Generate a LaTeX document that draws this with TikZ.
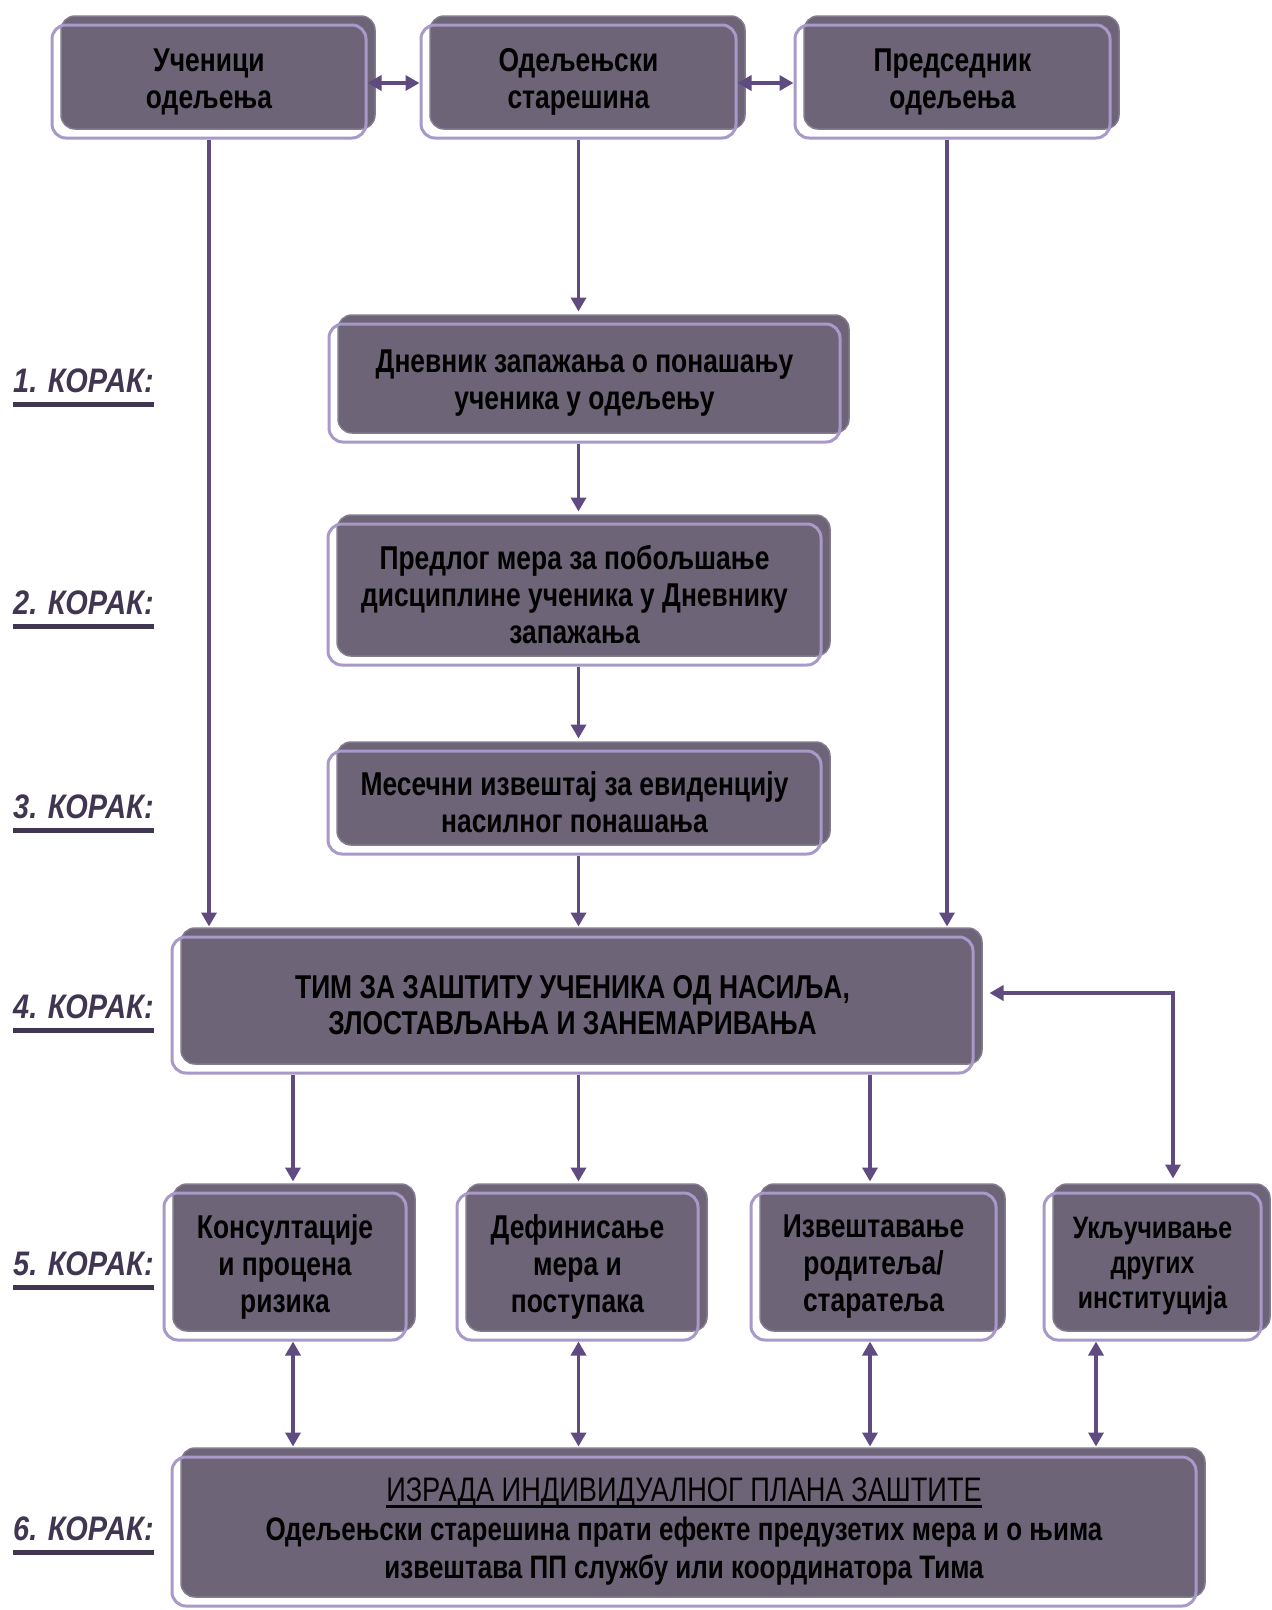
\documentclass[tikz,border=0pt]{standalone}
\usepackage{fontspec}
\setmainfont{Liberation Sans}[FakeStretch=0.8]
\newfontfamily\lblfont{Liberation Sans}[FakeStretch=0.85]
\usetikzlibrary{arrows.meta}
\definecolor{boxdark}{HTML}{6E6478}
\definecolor{boxedge}{HTML}{837B8E}
\definecolor{lav}{HTML}{A899C9}
\definecolor{conn}{HTML}{5F4B80}
\definecolor{steptxt}{HTML}{413652}
\newcommand\myul[1]{\setbox0\hbox{#1}\rlap{\rule[-6pt]{\wd0}{3pt}}\box0}
\tikzset{
  pbox/.style={draw=lav, line width=3pt, rounded corners=14pt, align=center,
    inner sep=0pt, text=black,
    font=\bfseries\fontsize{33}{37}\selectfont,
    preaction={fill=boxdark, draw=boxedge, line width=1.5pt,
      transform canvas={xshift=9pt,yshift=9pt}}},
  steplbl/.style={anchor=base west, inner sep=0pt, text=steptxt,
    font=\lblfont\bfseries\itshape\fontsize{34}{38}\selectfont},
  ulline/.style={draw=steptxt, line width=5pt},
  arr/.style={draw=conn, line width=3.5pt, -{Triangle[width=15pt,length=14pt]}},
  arrb/.style={draw=conn, line width=3.5pt, {Triangle[width=15pt,length=14pt]}-{Triangle[width=15pt,length=14pt]}}
}
\begin{document}
\begin{tikzpicture}[x=1pt,y=-1pt]
\useasboundingbox (0,0) rectangle (1272,1610);
% top row
\node[pbox, minimum width=314pt, minimum height=113pt] (b1) at (209,81.5) {Ученици\\одељења};
\node[pbox, minimum width=315pt, minimum height=113pt] (b2) at (578.5,81.5) {Одељењски\\старешина};
\node[pbox, minimum width=315pt, minimum height=113pt] (b3) at (952.5,81.5) {Председник\\одељења};
% steps 1-3
\node[pbox, minimum width=511pt, minimum height=118pt] (d1) at (584.5,383) {Дневник запажања о понашању\\ученика у одељењу};
\node[pbox, minimum width=493pt, minimum height=141pt] (d2) at (574.5,594.5) {Предлог мера за побољшање\\дисциплине ученика у Дневнику\\запажања};
\node[pbox, minimum width=493pt, minimum height=103pt] (d3) at (574.5,802.5) {Месечни извештај за евиденцију\\насилног понашања};
% step 4
\node[pbox, minimum width=801pt, minimum height=136pt, font=\bfseries\fontsize{33}{36}\selectfont] (T) at (572.5,1005) {ТИМ ЗА ЗАШТИТУ УЧЕНИКА ОД НАСИЉА,\\ЗЛОСТАВЉАЊА И ЗАНЕМАРИВАЊА};
% step 5
\node[pbox, minimum width=242pt, minimum height=147pt] (k1) at (285,1266.5) {Консултације\\и процена\\ризика};
\node[pbox, minimum width=241pt, minimum height=147pt] (k2) at (577.5,1266.5) {Дефинисање\\мера и\\поступака};
\node[pbox, minimum width=245pt, minimum height=147pt] (k3) at (873.5,1266.5) {Извештавање\\родитеља/\\старатеља};
\node[pbox, minimum width=217pt, minimum height=147pt, font=\bfseries\fontsize{31}{35}\selectfont] (k4) at (1152.5,1266.5) {Укључивање\\других\\институција};
% step 6
\node[pbox, minimum width=1024pt, minimum height=149pt, font=\bfseries\fontsize{32.5}{38.5}\selectfont] (p6) at (684,1531.5) {{\mdseries\fontsize{34}{38.5}\selectfont\myul{ИЗРАДА ИНДИВИДУАЛНОГ ПЛАНА ЗАШТИТЕ}}\\Одељењски старешина прати ефекте предузетих мера и о њима\\извештава ПП службу или координатора Тима};
% step labels
\node[steplbl] (s1) at (13,392) {1. КОРАК:};
\node[steplbl] (s2) at (13,614) {2. КОРАК:};
\node[steplbl] (s3) at (13,818) {3. КОРАК:};
\node[steplbl] (s4) at (13,1018) {4. КОРАК:};
\node[steplbl] (s5) at (13,1275) {5. КОРАК:};
\node[steplbl] (s6) at (13,1540) {6. КОРАК:};
\foreach \s in {s1,s2,s3,s4,s5,s6}
  \draw[ulline] ([yshift=-12pt]\s.base west) -- ([yshift=-12pt]\s.base east);
% connectors top row
\draw[arrb] ([yshift=-1.5pt]b1.east) -- ([yshift=-1.5pt]b2.west);
\draw[arrb] ([yshift=-1.5pt]b2.east) -- ([yshift=-1.5pt]b3.west);
% vertical lines
\draw[arr] (b1.south) -- ([yshift=9pt]b1.south |- T.north);
\draw[arr] ([xshift=-5.5pt]b3.south) -- ([xshift=-5.5pt,yshift=9pt]b3.south |- T.north);
\draw[arr] (b2.south) -- ([yshift=11pt]b2.south |- d1.north);
\draw[arr] (b2.south |- d1.south) -- ([yshift=11pt]b2.south |- d2.north);
\draw[arr] (b2.south |- d2.south) -- ([yshift=11pt]b2.south |- d3.north);
\draw[arr] (b2.south |- d3.south) -- ([yshift=9pt]b2.south |- T.north);
% step 4 to step 5
\draw[arr] ([xshift=8pt]k1.north |- T.south) -- ([xshift=8pt,yshift=10pt]k1.north);
\draw[arr] (b2.south |- T.south) -- ([yshift=10pt]b2.south |- k2.north);
\draw[arr] ([xshift=-3.5pt]k3.north |- T.south) -- ([xshift=-3.5pt,yshift=10pt]k3.north);
\draw[arrb] ([xshift=15pt,yshift=12pt]T.east) -| ([xshift=20.5pt,yshift=13pt]k4.north);
% step 5 to step 6
\draw[arrb] ([xshift=8pt]k1.south) -- ([xshift=8pt,yshift=9pt]k1.south |- p6.north);
\draw[arrb] (b2.south |- k2.south) -- ([yshift=9pt]b2.south |- p6.north);
\draw[arrb] ([xshift=-3.5pt]k3.south) -- ([xshift=-3.5pt,yshift=9pt]k3.south |- p6.north);
\draw[arrb] ([xshift=-56.5pt]k4.south) -- ([xshift=-56.5pt,yshift=9pt]k4.south |- p6.north);
\end{tikzpicture}
\end{document}
